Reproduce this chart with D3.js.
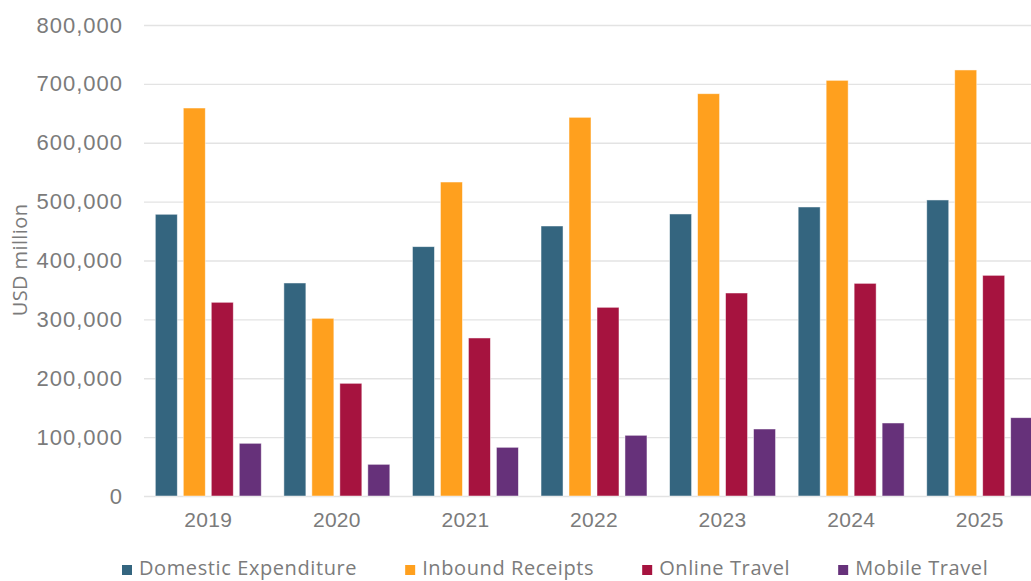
<!DOCTYPE html>
<html>
<head>
<meta charset="utf-8">
<script src="https://cdn.jsdelivr.net/npm/d3@7"></script>
<style>
  html, body { margin: 0; padding: 0; background: #fff; overflow: hidden; }
  svg { display: block; font-family: "Open Sans", sans-serif; }
</style>
</head>
<body>
<svg id="chart" width="1031" height="581"></svg>
<script>
// Travel market size by year, USD million
const years = ["2019", "2020", "2021", "2022", "2023", "2024", "2025"];
const seriesNames = ["Domestic Expenditure", "Inbound Receipts", "Online Travel", "Mobile Travel"];
const domesticExpenditure = [478500, 361800, 423500, 458600, 479000, 490900, 502800];
const inboundReceipts     = [659000, 301800, 533300, 643200, 683300, 706000, 723600];
const onlineTravel        = [329000, 191400, 268400, 320500, 344800, 361200, 374800];
const mobileTravel        = [89500, 53800, 82700, 103100, 113800, 124000, 133000];
const yTicks = [0, 100000, 200000, 300000, 400000, 500000, 600000, 700000, 800000];
const seriesColors = ["#34657f", "#ffa01e", "#a6133f", "#66317a"];

const seriesValues = [domesticExpenditure, inboundReceipts, onlineTravel, mobileTravel];
const rows = years.map((y, i) => ({
  year: y,
  values: seriesNames.map((s, j) => ({ key: s, value: seriesValues[j][i] }))
}));

const svg = d3.select("#chart");
const plot = { left: 144, right: 1044, top: 25, bottom: 496 };
const textColor = "#7b7b7b";

const y = d3.scaleLinear().domain([0, 800000]).range([plot.bottom, plot.top]);

const x0 = d3.scaleBand()
  .domain(years)
  .range([plot.left, plot.right])
  .paddingInner(0.176)
  .paddingOuter(0.088);

const x1 = d3.scaleBand()
  .domain(seriesNames)
  .range([0, x0.bandwidth()])
  .paddingInner(0.214)
  .paddingOuter(0);

const color = d3.scaleOrdinal().domain(seriesNames).range(seriesColors);

// Horizontal gridlines with tick labels
const yAxis = d3.axisLeft(y)
  .tickValues(yTicks)
  .tickFormat(d3.format(","))
  .tickSize(-(plot.right - plot.left))
  .tickPadding(21);

const gy = svg.append("g")
  .attr("transform", `translate(${plot.left},0)`)
  .call(yAxis);
gy.select(".domain").remove();
gy.selectAll(".tick line")
  .attr("stroke", "#e3e3e3")
  .attr("stroke-width", 1.3);
gy.selectAll(".tick text")
  .attr("fill", textColor)
  .style("font-size", "22px")
  .style("letter-spacing", "1px");

// Bars
const groups = svg.append("g")
  .selectAll("g")
  .data(rows)
  .join("g")
  .attr("transform", d => `translate(${x0(d.year)},0)`);

groups.selectAll("rect")
  .data(d => d.values)
  .join("rect")
  .attr("x", d => x1(d.key))
  .attr("y", d => y(d.value))
  .attr("width", x1.bandwidth())
  .attr("height", d => y(0) - y(d.value))
  .attr("fill", d => color(d.key))
  .attr("stroke", "#ffffff")
  .attr("stroke-opacity", 0.6)
  .attr("stroke-width", 0.8);

// Category axis labels
const xAxis = d3.axisBottom(x0).tickSize(0).tickPadding(16);
const gx = svg.append("g")
  .attr("transform", `translate(0,${plot.bottom})`)
  .call(xAxis);
gx.select(".domain").remove();
gx.selectAll(".tick text")
  .attr("fill", textColor)
  .style("font-size", "21px")
  .style("letter-spacing", "0.3px");

// Y axis title
svg.append("text")
  .attr("transform", `translate(27,260) rotate(-90)`)
  .attr("text-anchor", "middle")
  .attr("fill", textColor)
  .style("font-size", "20px")
  .style("letter-spacing", "0.4px")
  .text("USD million");

// Legend along the bottom edge
const legend = svg.append("g");
let lx = 122;
seriesNames.forEach((name, i) => {
  const item = legend.append("g").attr("transform", `translate(${lx},0)`);
  item.append("rect")
    .attr("x", 0)
    .attr("y", 565)
    .attr("width", 10)
    .attr("height", 10)
    .attr("fill", color(name));
  const t = item.append("text")
    .attr("x", 17)
    .attr("y", 575)
    .attr("fill", textColor)
    .style("font-size", "20px")
    .style("letter-spacing", "0.6px")
    .text(name);
  lx += 17 + t.node().getComputedTextLength() + 48;
});
</script>
</body>
</html>
